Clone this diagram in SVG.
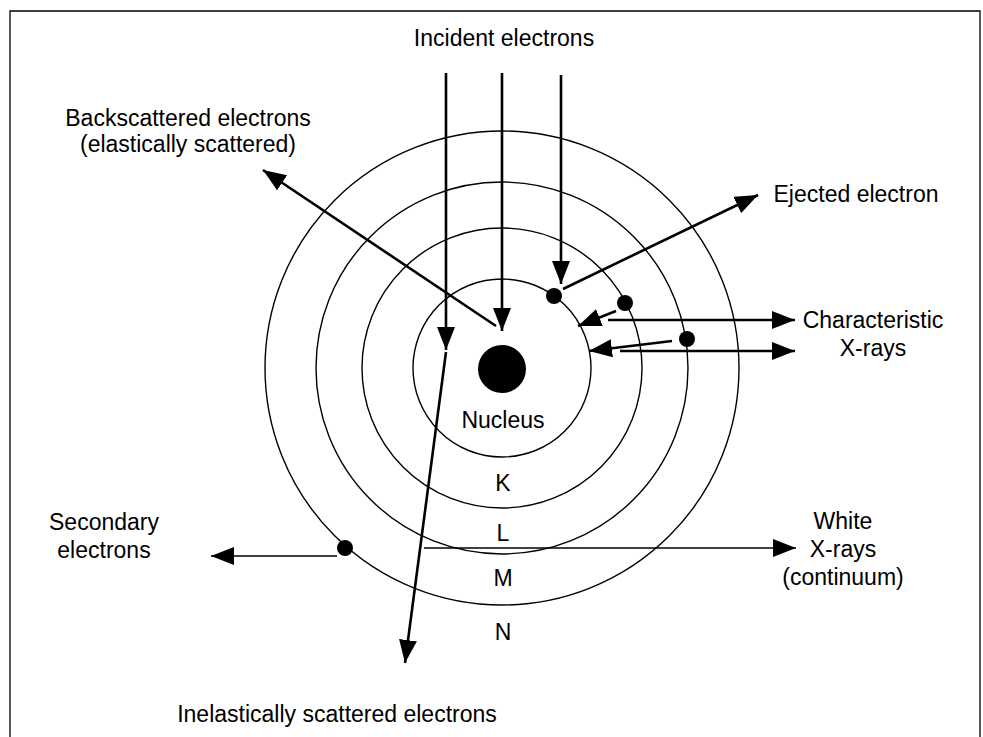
<svg xmlns="http://www.w3.org/2000/svg" width="983" height="737" viewBox="0 0 983 737">
<defs>
<marker id="ah" markerUnits="userSpaceOnUse" markerWidth="24" markerHeight="18" refX="23" refY="9" orient="auto">
<path d="M0,0 L23,9 L0,18 z" fill="#000"/>
</marker>
<style>
.t{font-family:"Liberation Sans",Arial,sans-serif;font-size:23px;fill:#000;text-anchor:middle}
.shell{fill:none;stroke:#000;stroke-width:1.4}
.thick{fill:none;stroke:#000;stroke-width:2.6;marker-end:url(#ah)}
.thin{fill:none;stroke:#000;stroke-width:1.6;marker-end:url(#ah)}
.e{fill:#000}
</style>
</defs>
<rect width="983" height="737" fill="#fff"/>
<path d="M10,737 V11 H980 V737" fill="none" stroke="#000" stroke-width="1.3"/>

<g id="atom">
<circle class="shell" cx="502" cy="368" r="89"/>
<circle class="shell" cx="502" cy="368" r="140"/>
<circle class="shell" cx="502" cy="368" r="186"/>
<circle class="shell" cx="502" cy="368" r="237"/>
</g>
<g id="nucleus">
<circle class="e" cx="502" cy="369" r="24"/>
<text class="t" x="503" y="428">Nucleus</text>
</g>
<g id="shell-labels">
<text class="t" x="503" y="491">K</text>
<text class="t" x="503" y="541">L</text>
<text class="t" x="503" y="586">M</text>
<text class="t" x="503" y="640">N</text>
</g>
<g id="electrons">
<circle class="e" cx="554" cy="296" r="8"/>
<circle class="e" cx="625" cy="303" r="8"/>
<circle class="e" cx="687" cy="339" r="8"/>
<circle class="e" cx="345" cy="548" r="8"/>
</g>

<g id="connectors">
<line class="thick" x1="446" y1="73" x2="446" y2="350"/>
<line class="thick" x1="502" y1="73" x2="502" y2="331"/>
<line class="thick" x1="561" y1="75" x2="561" y2="284"/>
<line class="thick" x1="446" y1="352" x2="405" y2="663"/>
<line class="thick" x1="496" y1="326" x2="263" y2="170"/>
<line class="thick" x1="563" y1="289" x2="758" y2="195"/>
<line class="thick" x1="616" y1="311" x2="578" y2="326"/>
<line class="thick" x1="672" y1="341" x2="589" y2="351"/>
<line class="thick" x1="608" y1="320" x2="795" y2="320"/>
<line class="thick" x1="620" y1="351" x2="795" y2="351"/>
<line class="thin" x1="337" y1="556" x2="211" y2="556"/>
<line class="thin" x1="424" y1="548" x2="796" y2="548"/>
</g>

<g id="labels">
<text class="t" x="504" y="46">Incident electrons</text>
<text class="t" x="188" y="126">Backscattered electrons</text>
<text class="t" x="188" y="152">(elastically scattered)</text>
<text class="t" x="856" y="202">Ejected electron</text>
<text class="t" x="873" y="328">Characteristic</text>
<text class="t" x="873" y="356">X-rays</text>
<text class="t" x="104" y="530">Secondary</text>
<text class="t" x="104" y="558">electrons</text>
<text class="t" x="843" y="529">White</text>
<text class="t" x="843" y="557">X-rays</text>
<text class="t" x="843" y="585">(continuum)</text>
<text class="t" x="337" y="722">Inelastically scattered electrons</text>
</g>
</svg>
